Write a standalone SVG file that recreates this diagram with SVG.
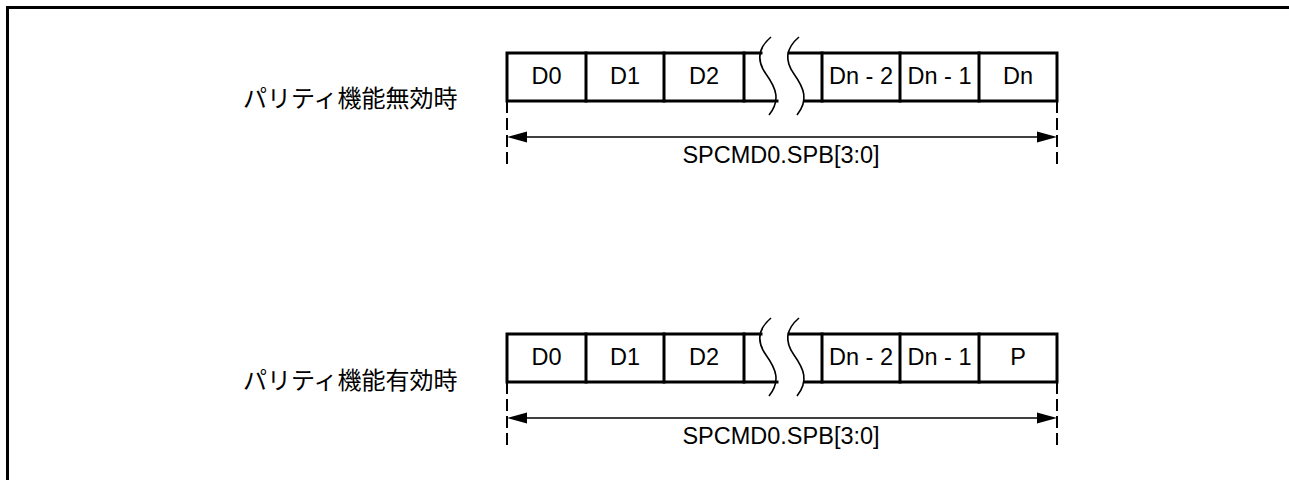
<svg xmlns="http://www.w3.org/2000/svg" width="1289" height="480" viewBox="0 0 1289 480">
<style>
.frame{fill:none;stroke:#000;stroke-width:3}
.box{fill:none;stroke:#000;stroke-width:3;stroke-linecap:square}
.wave{fill:none;stroke:#000;stroke-width:1.6}
.dim{fill:none;stroke:#000;stroke-width:1.5}
.head{fill:#000;stroke:none}
.dash{fill:none;stroke:#000;stroke-width:2;stroke-dasharray:12 5}
.t{font-family:"Liberation Sans",Arial,sans-serif;font-size:23.5px;fill:#000;text-anchor:middle}
.jp{font-family:"Noto Sans CJK JP","Noto Sans CJK SC",sans-serif;font-size:24px;fill:#000}
</style>
<defs>
<path id="wv" class="wave" d="M771,37 C758,48 756,60 766,74 C776,88 781,100 769,115"/>
</defs>
<path class="frame" d="M7.5,480 L7.5,7.5 L1289,7.5"/>

<g id="row-disabled">
<text class="jp" x="243" y="107">パリティ機能無効時</text>
<g id="frame-disabled">
<path class="box" d="M761,53 L507,53 L507,101 L777,101"/>
<path class="box" d="M789,53 L1057,53 L1057,101 L805,101"/>
<path class="box" d="M586,53 V101 M664,53 V101 M744,53 V101 M822,53 V101 M900,53 V101 M979,53 V101"/>
<use href="#wv"/>
<use href="#wv" x="28"/>
<text class="t" x="546.5" y="84">D0</text>
<text class="t" x="625" y="84">D1</text>
<text class="t" x="704" y="84">D2</text>
<text class="t" x="861" y="84">Dn - 2</text>
<text class="t" x="939.5" y="84">Dn - 1</text>
<text class="t" x="1018" y="84">Dn</text>
</g>
</g>

<g id="row-enabled">
<text class="jp" x="243" y="389">パリティ機能有効時</text>
<g id="frame-enabled">
<path class="box" d="M761,334 L507,334 L507,382 L777,382"/>
<path class="box" d="M789,334 L1057,334 L1057,382 L805,382"/>
<path class="box" d="M586,334 V382 M664,334 V382 M744,334 V382 M822,334 V382 M900,334 V382 M979,334 V382"/>
<use href="#wv" y="281"/>
<use href="#wv" x="28" y="281"/>
<text class="t" x="546.5" y="365">D0</text>
<text class="t" x="625" y="365">D1</text>
<text class="t" x="704" y="365">D2</text>
<text class="t" x="861" y="365">Dn - 2</text>
<text class="t" x="939.5" y="365">Dn - 1</text>
<text class="t" x="1018" y="365">P</text>
</g>
</g>

<g id="connectors">
<path class="dash" d="M507,101 V168"/>
<path class="dash" d="M1057,101 V168"/>
<path class="dim" d="M525,137 H1039"/>
<path class="head" d="M507,137 L527,131.5 L527,142.5 Z"/>
<path class="head" d="M1057,137 L1037,131.5 L1037,142.5 Z"/>
<text class="t" x="781" y="163">SPCMD0.SPB[3:0]</text>
<path class="dash" d="M507,382 V449"/>
<path class="dash" d="M1057,382 V449"/>
<path class="dim" d="M525,418 H1039"/>
<path class="head" d="M507,418 L527,412.5 L527,423.5 Z"/>
<path class="head" d="M1057,418 L1037,412.5 L1037,423.5 Z"/>
<text class="t" x="781" y="444">SPCMD0.SPB[3:0]</text>
</g>
</svg>
